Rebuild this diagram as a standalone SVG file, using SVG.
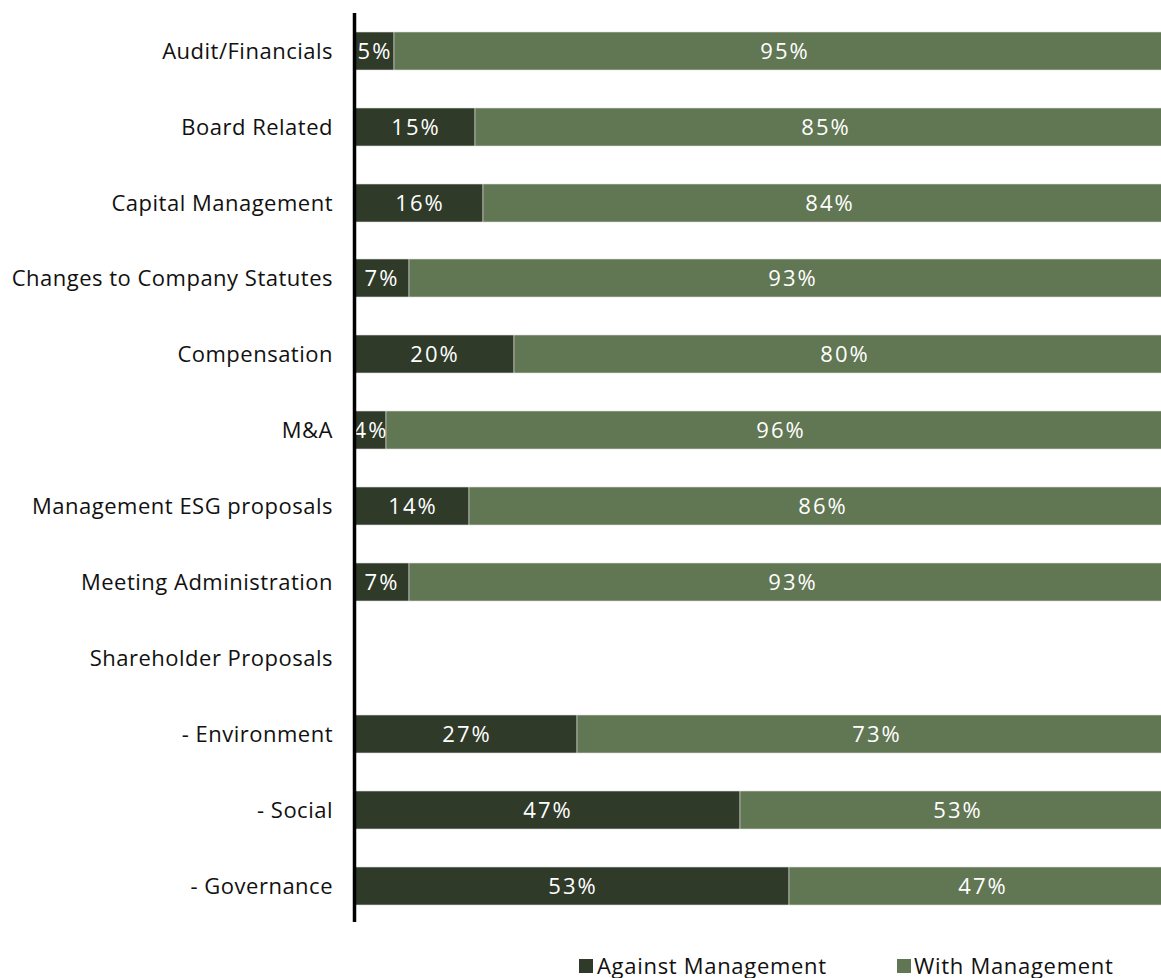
<svg xmlns="http://www.w3.org/2000/svg" width="1161" height="978" viewBox="0 0 1161 978">
<style>
.lbl{font-family:"Open Sans","Liberation Sans",sans-serif;font-size:22px;fill:#111;text-anchor:end;letter-spacing:0.5px}
.val{font-family:"Open Sans","Liberation Sans",sans-serif;font-size:22px;fill:#fff;text-anchor:middle;letter-spacing:2px}
.leg{font-family:"Open Sans","Liberation Sans",sans-serif;font-size:22px;fill:#111;letter-spacing:0.7px}
.a{fill:#2f3a29;stroke:#ddd;stroke-width:0.6}
.w{fill:#617653;stroke:#ddd;stroke-width:0.6}
</style>
<rect width="1161" height="978" fill="#fff"/>
<g id="row-audit"><rect class="a" x="355" y="32" width="39" height="38"/><rect class="w" x="394" y="32" width="781" height="38"/><text class="lbl" x="333" y="59">Audit/Financials</text><text class="val" x="375" y="59">5%</text><text class="val" x="785" y="59">95%</text></g>
<g id="row-board"><rect class="a" x="355" y="108" width="120" height="38"/><rect class="w" x="475" y="108" width="700" height="38"/><text class="lbl" x="333" y="135">Board Related</text><text class="val" x="416" y="135">15%</text><text class="val" x="826" y="135">85%</text></g>
<g id="row-capital"><rect class="a" x="355" y="184" width="128" height="38"/><rect class="w" x="483" y="184" width="692" height="38"/><text class="lbl" x="333" y="211">Capital Management</text><text class="val" x="420" y="211">16%</text><text class="val" x="830" y="211">84%</text></g>
<g id="row-statutes"><rect class="a" x="355" y="259" width="54" height="38"/><rect class="w" x="409" y="259" width="766" height="38"/><text class="lbl" x="333" y="286">Changes to Company Statutes</text><text class="val" x="382" y="286">7%</text><text class="val" x="793" y="286">93%</text></g>
<g id="row-comp"><rect class="a" x="355" y="335" width="159" height="38"/><rect class="w" x="514" y="335" width="661" height="38"/><text class="lbl" x="333" y="362">Compensation</text><text class="val" x="435" y="362">20%</text><text class="val" x="845" y="362">80%</text></g>
<g id="row-ma"><rect class="a" x="355" y="411" width="31" height="38"/><rect class="w" x="386" y="411" width="789" height="38"/><text class="lbl" x="333" y="438">M&amp;A</text><text class="val" x="371" y="438">4%</text><text class="val" x="781" y="438">96%</text></g>
<g id="row-esg"><rect class="a" x="355" y="487" width="114" height="38"/><rect class="w" x="469" y="487" width="706" height="38"/><text class="lbl" x="333" y="514">Management ESG proposals</text><text class="val" x="413" y="514">14%</text><text class="val" x="823" y="514">86%</text></g>
<g id="row-meeting"><rect class="a" x="355" y="563" width="54" height="38"/><rect class="w" x="409" y="563" width="766" height="38"/><text class="lbl" x="333" y="590">Meeting Administration</text><text class="val" x="382" y="590">7%</text><text class="val" x="793" y="590">93%</text></g>
<g id="row-shareholder"><text class="lbl" x="333" y="666">Shareholder Proposals</text></g>
<g id="row-env"><rect class="a" x="355" y="715" width="222" height="38"/><rect class="w" x="577" y="715" width="598" height="38"/><text class="lbl" x="333" y="742">- Environment</text><text class="val" x="467" y="742">27%</text><text class="val" x="877" y="742">73%</text></g>
<g id="row-social"><rect class="a" x="355" y="791" width="385" height="38"/><rect class="w" x="740" y="791" width="435" height="38"/><text class="lbl" x="333" y="818">- Social</text><text class="val" x="548" y="818">47%</text><text class="val" x="958" y="818">53%</text></g>
<g id="row-gov"><rect class="a" x="355" y="867" width="434" height="38"/><rect class="w" x="789" y="867" width="386" height="38"/><text class="lbl" x="333" y="894">- Governance</text><text class="val" x="573" y="894">53%</text><text class="val" x="983" y="894">47%</text></g>
<g id="axis"><line x1="354.5" y1="13" x2="354.5" y2="922" stroke="#000" stroke-width="3.5"/></g>
<g id="legend">
<rect x="579" y="959" width="14" height="14" fill="#2f3a29"/><text class="leg" x="597" y="974">Against Management</text>
<rect x="897" y="959" width="14" height="14" fill="#617653"/><text class="leg" x="914" y="974">With Management</text>
</g>
</svg>
